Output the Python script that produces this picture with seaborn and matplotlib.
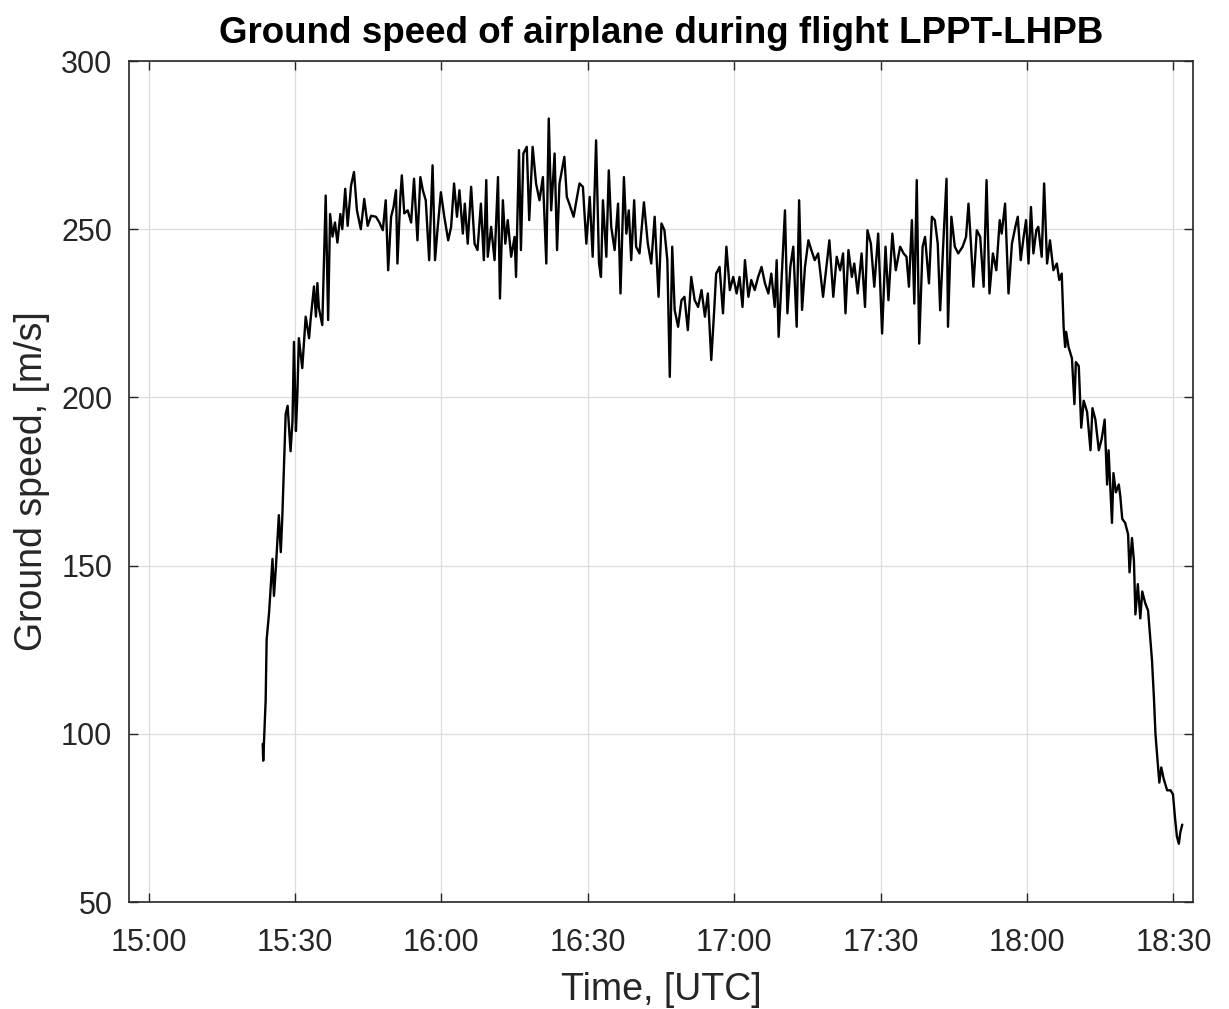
import numpy as np
import pandas as pd
import matplotlib
matplotlib.use("Agg")
import matplotlib.pyplot as plt
import seaborn as sns
from matplotlib.ticker import FuncFormatter

# Ground speed samples of flight LPPT-LHPB.
# Time is given in minutes after 15:00 UTC, speed in m/s.

# climb out of Lisbon
climb_min = [23.4, 23.5, 24.0, 24.2, 24.7, 25.4, 25.7, 26.1, 26.7, 27.1,
             27.4, 28.1, 28.5, 29.1, 29.5, 29.8, 30.2, 30.5, 30.8, 31.5,
             32.2, 32.9, 33.2, 33.9, 34.3, 34.6, 34.9, 35.6, 36.3, 36.8,
             37.2, 37.7, 38.2, 38.7, 39.3, 39.7, 40.3, 40.8, 41.5, 42.1,
             42.7, 43.5, 44.2, 44.9, 45.6]
climb_speed = [97, 92, 110, 128, 136, 152, 141, 149.6, 165, 154,
               164, 195, 197.5, 184, 193, 216.5, 190, 201, 217.6, 208.7,
               224, 217.6, 223, 233, 224, 234, 226.6, 221.5, 260, 223,
               254.5, 247.8, 252, 246, 254.5, 250, 262, 251, 263, 267,
               255.6, 250, 259, 251, 254]

# cruise, first part
cruise1_min = [46.6, 47.3, 48.0, 48.6, 49.1, 49.7, 50.2, 50.7, 51.0, 51.6,
               51.9, 52.4, 53.1, 53.8, 54.4, 55.1, 55.7, 56.2, 56.8, 57.5,
               58.2, 58.7, 59.2, 59.9, 60.6, 61.4, 62.0, 62.6, 63.2, 63.7,
               64.4, 64.8, 65.4, 66.1, 66.8, 67.4, 68.1, 68.7]
cruise1_speed = [253.7, 252, 249.7, 258.6, 237.8, 253.7, 256.6, 261.6, 239.8, 259.6,
                 266, 254.7, 255.6, 252, 265, 246.7, 265.5, 261.6, 258.6, 240.8,
                 269, 240.8, 249.7, 261, 253.7, 246.7, 250.7, 263.6, 253.7, 261.6,
                 248.7, 257.6, 245.7, 262.6, 245.7, 243.8, 257.6, 240.8]

cruise2_min = [69.2, 69.5, 70.2, 70.9, 71.6, 72.0, 72.6, 73.1, 73.6, 74.3,
               75.0, 75.3, 75.9, 76.3, 76.8, 77.5, 78.0, 78.7, 79.4, 80.1,
               80.8, 81.5, 82.0, 82.5, 83.2, 83.7, 84.2, 85.2, 85.7, 86.2,
               87.1, 87.8, 88.3, 89.0, 89.7, 90.4, 91.0, 91.7, 92.3, 92.7]
cruise2_speed = [264.6, 241.8, 250.7, 240.8, 265.5, 229.4, 258.6, 245.7, 252.7, 241.8,
                 247.7, 235.8, 273.5, 243.8, 272.5, 274.5, 252.7, 274.5, 263.6, 258.6,
                 265.5, 239.8, 282.9, 255.6, 272.5, 243.8, 263.6, 271.5, 259.6, 257.6,
                 253.7, 259.6, 263.6, 262.6, 245.7, 259.6, 241.8, 276.4, 239.8, 235.8]

cruise3_min = [93.1, 93.8, 94.3, 94.8, 95.5, 96.2, 96.7, 97.4, 97.9, 98.4,
               98.9, 99.5, 99.9, 100.6, 101.5, 102.3, 103.0, 103.7, 104.5, 105.1,
               105.7, 106.3, 106.8, 107.3, 107.8, 108.5, 109.2, 109.8, 110.5, 111.2,
               111.9, 112.6, 113.3, 114.0, 114.6, 115.3, 115.9, 116.3]
cruise3_speed = [258.6, 241.8, 267.5, 250.7, 243.8, 257.6, 230.9, 265.5, 248.7, 255.6,
                 240.8, 258.6, 244.8, 242.8, 258, 245.7, 239.8, 253.7, 229.9, 251.7,
                 249.7, 240.8, 206.1, 244.8, 226, 221, 228.9, 229.9, 220, 235.8,
                 228.9, 226.9, 231.9, 224, 230.9, 211.1, 225.9, 236.8]

cruise4_min = [117.0, 117.7, 118.4, 119.1, 119.8, 120.5, 121.1, 121.7, 122.2, 122.9,
               123.5, 124.2, 124.9, 125.6, 126.3, 127.0, 127.6, 128.3, 128.7, 129.1,
               129.7, 130.4, 130.9, 131.5, 132.1, 132.8, 133.3, 133.9, 134.5, 135.2,
               135.8, 136.5, 137.2, 138.2, 138.9, 139.5]
cruise4_speed = [238.8, 225, 244.8, 231.9, 235.8, 230.9, 235.8, 226.9, 240.8, 229.9,
                 234.9, 231.9, 235.8, 238.8, 233.9, 230.9, 236.8, 226.9, 240.8, 218,
                 234.9, 255.6, 225, 238.8, 244.8, 221, 258.6, 226, 238.8, 246.7,
                 243.8, 240.8, 242.8, 229.9, 238.8, 246.7]

cruise5_min = [140.3, 141.0, 141.7, 142.3, 142.8, 143.4, 144.1, 144.6, 145.3, 146.1,
               146.8, 147.3, 148.0, 148.7, 149.5, 150.3, 151.0, 151.6, 152.4, 153.1,
               154.0, 154.7, 155.3, 155.8, 156.4, 156.9, 157.4, 157.9, 158.6, 159.1,
               159.9, 160.5, 161.1, 161.7, 162.2, 162.9, 163.5]
cruise5_speed = [229.9, 241.8, 237.8, 242.8, 225, 243.8, 235.8, 239.8, 230.9, 242.8,
                 226.9, 249.7, 245.7, 232.9, 248.7, 219, 244.8, 228.9, 248.7, 237.8,
                 244.8, 242.8, 241.8, 232.9, 252.7, 227.9, 264.6, 216, 244.8, 247.7,
                 233.9, 253.7, 252.7, 245.7, 225.9, 247.7, 265]

cruise6_min = [163.8, 164.5, 165.2, 165.9, 166.8, 167.5, 168.0, 168.5, 169.0, 169.7,
               170.4, 171.1, 171.7, 172.3, 173.0, 173.7, 174.4, 174.8, 175.5, 176.2,
               176.9, 177.6, 178.1, 178.7, 179.3, 179.8, 180.3, 180.8, 181.3, 181.9,
               182.3, 183.0, 183.5, 184.1, 184.7, 185.4, 186.1, 186.6, 187.1]
cruise6_speed = [221, 253.7, 244.8, 242.8, 244.8, 247.7, 257.6, 245.7, 232.9, 249.7,
                 247.7, 232.9, 264.6, 230.9, 242.8, 237.8, 252.7, 248.7, 257.6, 230.9,
                 245.7, 250.7, 253.7, 240.8, 247.7, 252.7, 239.8, 256.6, 242.8, 249.7,
                 250.7, 241.8, 263.6, 239.8, 246.7, 237.8, 239.8, 234.9, 236.8]

# descent into Budapest
descent_min = [187.5, 187.8, 188.0, 188.5, 189.2, 189.7, 190.0, 190.6, 191.1, 191.6,
               192.3, 193.0, 193.4, 194.0, 194.7, 195.3, 195.9, 196.4, 196.7, 197.4,
               197.7, 198.2, 198.8, 199.1, 199.5, 200.1, 200.7, 201.0, 201.5, 201.9,
               202.2, 202.7, 203.2, 203.6, 204.2, 204.8, 205.3, 205.6, 206.0, 206.3,
               206.6, 207.1, 207.5, 208.0, 208.7, 209.4, 209.9, 210.3, 210.7, 211.1,
               211.4, 211.8]
descent_speed = [220.7, 215, 219.5, 215, 211.6, 198, 210.5, 209.3, 191, 199,
                 195.7, 184.3, 196.8, 193.4, 184.3, 187.7, 193.4, 174.1, 184.3, 162.7,
                 177.5, 171.8, 174.1, 170.7, 163.9, 162.7, 159.3, 148, 158.2, 151.4,
                 135.5, 144.5, 134.3, 142.3, 138.9, 136.6, 127.5, 121.8, 110.5, 100.2,
                 94.5, 85.5, 90, 86.6, 83.2, 83.2, 82, 75.2, 69.5, 67.3,
                 70.7, 73]

x_ticks_min = [0, 30, 60, 90, 120, 150, 180, 210]
y_ticks = [50, 100, 150, 200, 250, 300]

flight = pd.DataFrame({
    "minutes": np.concatenate([climb_min, cruise1_min, cruise2_min, cruise3_min,
                               cruise4_min, cruise5_min, cruise6_min, descent_min]),
    "speed": np.concatenate([climb_speed, cruise1_speed, cruise2_speed, cruise3_speed,
                             cruise4_speed, cruise5_speed, cruise6_speed, descent_speed]),
})

sns.set_theme(style="whitegrid")
plt.rcParams["font.family"] = ["Liberation Sans", "DejaVu Sans"]

ink = "#262626"
fig = plt.figure(figsize=(12.29, 10.09), dpi=100)
ax = fig.add_axes([129 / 1229, 1 - 902 / 1009, 1064 / 1229, 841 / 1009])

sns.lineplot(data=flight, x="minutes", y="speed", ax=ax, color="black",
             linewidth=1.7, estimator=None, sort=False)

ax.set_xlim(-4, 214)
ax.set_ylim(50, 300)
ax.set_xticks(x_ticks_min)
ax.set_yticks(y_ticks)
ax.xaxis.set_major_formatter(FuncFormatter(
    lambda m, _: f"{15 + int(round(m)) // 60:02d}:{int(round(m)) % 60:02d}"))

ax.set_facecolor("white")
ax.grid(True, color="#dcdcdc", linewidth=0.9)
for side in ax.spines.values():
    side.set_visible(True)
    side.set_color(ink)
    side.set_linewidth(1.2)

ax.tick_params(axis="both", which="major", direction="in", length=6.5, width=1.0,
               top=True, right=True, bottom=True, left=True,
               color=ink, labelcolor=ink, labelsize=22)
ax.tick_params(axis="x", pad=19)
ax.tick_params(axis="y", pad=12)

ax.set_xlabel("Time, [UTC]", fontsize=27, color=ink, labelpad=10)
ax.set_ylabel("Ground speed, [m/s]", fontsize=27, color=ink, labelpad=8)
ax.set_title("Ground speed of airplane during flight LPPT-LHPB",
             fontsize=26.5, fontweight="bold", color="black", pad=13)

fig.savefig("out.png", dpi=100, facecolor="white")
